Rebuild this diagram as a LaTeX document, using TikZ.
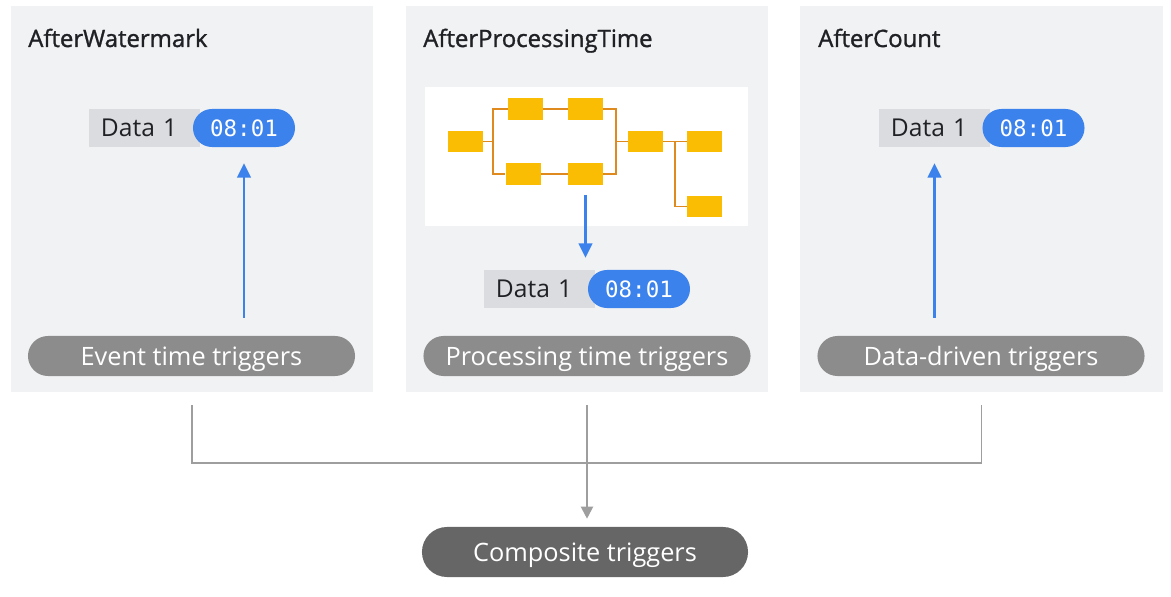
\documentclass[tikz,border=0pt]{standalone}
\usepackage{fontspec}
\setmainfont{Open Sans}
\newfontfamily\titlefont{Open Sans}[BoldFont={Open Sans}, BoldFeatures={FakeBold=1.3}]
\newfontfamily\timefont{DejaVu Sans Mono}
\usetikzlibrary{arrows.meta, positioning}
\definecolor{clrPanel}{HTML}{F1F2F4}
\definecolor{clrTitle}{HTML}{202124}
\definecolor{clrData}{HTML}{DADCE0}
\definecolor{clrTime}{HTML}{3C82EC}
\definecolor{clrTrig}{HTML}{8C8C8C}
\definecolor{clrComp}{HTML}{666666}
\definecolor{clrLink}{HTML}{9E9E9E}
\definecolor{clrStep}{HTML}{FBBC04}
\definecolor{clrFlow}{HTML}{DE8A1E}

\begin{document}
\begin{tikzpicture}[
    x=0.025cm, y=-0.025cm,
    panel/.style={rectangle, fill=clrPanel, minimum width=9.05cm, minimum height=9.65cm, inner sep=0pt},
    title/.style={anchor=base west, font=\titlefont\bfseries\fontsize{17}{20}\selectfont, text=clrTitle, inner sep=0pt},
    datatag/.style={rectangle, fill=clrData, minimum width=2.775cm, minimum height=0.95cm, inner xsep=0.3cm, inner ysep=0pt, text width=2.175cm, align=left, font=\fontsize{17.5}{20}\selectfont, text=clrTitle},
    timepill/.style={rectangle, rounded corners=0.475cm, fill=clrTime, minimum width=2.55cm, minimum height=0.95cm, inner sep=0pt, font=\timefont\fontsize{16}{19}\selectfont, text=white},
    trig/.style={rectangle, rounded corners=0.5cm, fill=clrTrig, minimum width=8.175cm, minimum height=1cm, inner sep=0pt, text height=13pt, text depth=0pt, text=white, font=\fontsize{18}{21}\selectfont},
    comp/.style={rectangle, rounded corners=0.625cm, fill=clrComp, minimum width=8.15cm, minimum height=1.25cm, inner sep=0pt, text height=13pt, text depth=0pt, text=white, font=\fontsize{18}{21}\selectfont},
    stepbox/.style={rectangle, fill=clrStep, minimum width=0.875cm, minimum height=0.525cm, inner sep=0pt},
    flow/.style={draw=clrFlow, line width=1.4pt},
    feed/.style={-{Triangle[length=0.36cm, width=0.34cm]}, line width=1.7pt, clrTime},
    link/.style={line width=1.4pt, clrLink},
]
\useasboundingbox (0,0) rectangle (1171,597);

% three trigger panels
\node[panel] (pWater) at (192,199) {};
\node[panel] (pProc) at (587,199) {};
\node[panel] (pCount) at (981.5,199) {};

\node[title] (tiWater) at (28,47) {AfterWatermark};
\node[title] (tiProc) at (423,47) {AfterProcessingTime};
\node[title] (tiCount) at (818,47) {AfterCount};

% pipeline sketch
\node[rectangle, fill=white, minimum width=8.075cm, minimum height=3.475cm, inner sep=0pt] (sheet) at (586.5,156.5) {};
\node[stepbox] (fa) at (465.5,141.5) {};
\node[stepbox] (fb1) at (525.5,109) {};
\node[stepbox] (fb2) at (585.5,109) {};
\node[stepbox] (fc1) at (523,174) {};
\node[stepbox] (fc2) at (585.5,174) {};
\node[stepbox] (fd) at (645.5,141.5) {};
\node[stepbox] (fe) at (704.5,141.5) {};
\node[stepbox] (ff) at (704.5,206.5) {};
\coordinate (fork1) at (493,141.5);
\coordinate (fork2) at (616,141.5);
\coordinate (fork3) at (675,141.5);
\draw[flow] (fa) -- (fork1);
\draw[flow] (fb1.west) -| (fork1);
\draw[flow] (fc1.west) -| (fork1);
\draw[flow] (fb1) -- (fb2);
\draw[flow] (fc1) -- (fc2);
\draw[flow] (fb2.east) -| (fork2);
\draw[flow] (fc2.east) -| (fork2);
\draw[flow] (fork2) -- (fd);
\draw[flow] (fd) -- (fe);
\draw[flow] (fork3) |- (ff.west);

% data elements
\node[datatag] (dWater) at (144.5,128) {Data 1};
\node[timepill] (tmWater) at (244,128) {08:01};
\node[datatag] (dProc) at (539.5,289) {Data 1};
\node[timepill] (tmProc) at (639,289) {08:01};
\node[datatag] (dCount) at (934.5,128) {Data 1};
\node[timepill] (tmCount) at (1033.5,128) {08:01};

\node[trig] (tgWater) at (191.5,356) {Event time triggers};
\node[trig] (tgProc) at (587,356) {Processing time triggers};
\node[trig] (tgCount) at (981,356) {Data-driven triggers};

\draw[feed, shorten <=0.45cm, shorten >=0.4cm] (tgWater.north -| tmWater.south) -- (tmWater.south);
\draw[feed, shorten <=0.45cm, shorten >=0.4cm] (tgCount.north -| dCount.south) -- (dCount.south);
\draw[feed, shorten <=0.25cm, shorten >=0.3cm] (fc2.south) -- (fc2.south |- dProc.north);

% combine into composite
\node[comp] (comp) at (585,552) {Composite triggers};
\coordinate (join) at (587,463);
\draw[link] ([yshift=-0.325cm]pWater.south) |- (join) -| ([yshift=-0.325cm]pCount.south);
\draw[link, -{Triangle[length=0.3cm, width=0.3cm]}, shorten >=0.2cm] ([yshift=-0.325cm]pProc.south) -- (pProc.south |- comp.north);

\end{tikzpicture}
\end{document}
